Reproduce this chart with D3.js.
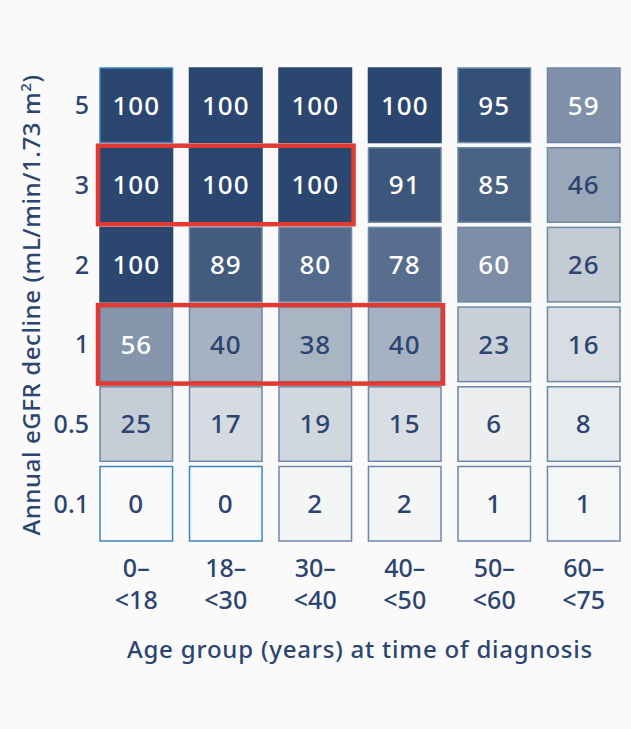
<!DOCTYPE html>
<html><head><meta charset="utf-8">
<script src="https://cdn.jsdelivr.net/npm/d3@7"></script>
<style>body{margin:0;background:#f9faf9;}</style>
</head><body>
<script>
const ageGroups = ['0–\n<18', '18–\n<30', '30–\n<40', '40–\n<50', '50–\n<60', '60–\n<75'];
const declines = ['5', '3', '2', '1', '0.5', '0.1'];
const values = [
  [100, 100, 100, 100, 95, 59],
  [100, 100, 100, 91, 85, 46],
  [100, 89, 80, 78, 60, 26],
  [56, 40, 38, 40, 23, 16],
  [25, 17, 19, 15, 6, 8],
  [0, 0, 2, 2, 1, 1],
];
// highlighted ranges: [row, firstCol, lastCol]
const highlights = [[1, 0, 2], [3, 0, 3]];

const navy = '#2c4470';
const svg = d3.select('body').append('svg').attr('width', 631).attr('height', 729)
  .style('font-family', 'Noto Sans').style('font-weight', 500);

const x = d3.scaleBand().domain(d3.range(6)).range([96, 624]).paddingInner(0.1).paddingOuter(0);
const y = d3.scaleBand().domain(d3.range(6)).range([67, 542]).paddingInner(0.04).paddingOuter(0);
const color = d3.scaleLinear().domain([0, 100]).range(['#f8f9f8', '#2b4770']).interpolate(d3.interpolateRgb);

const cells = values.flatMap((row, r) => row.map((v, c) => ({ r, c, v })));
const g = svg.append('g');
g.selectAll('rect').data(cells).join('rect')
  .attr('x', (d) => x(d.c) + 4).attr('y', (d) => y(d.r) + 1)
  .attr('width', x.bandwidth() - 8).attr('height', y.bandwidth() - 2)
  .attr('fill', (d) => color(d.v))
  .attr('stroke', (d) => {
    if ((d.r === 0 && d.c === 0) || d.v === 0) return '#3b87c4';
    return d.v === 100 ? color(d.v) : '#6f87a8';
  })
  .attr('stroke-width', 1.5);
g.selectAll('text').data(cells).join('text')
  .attr('x', (d) => x(d.c) + x.bandwidth() / 2)
  .attr('y', (d) => y(d.r) + y.bandwidth() / 2)
  .attr('dy', '0.36em').attr('text-anchor', 'middle')
  .attr('font-size', 26).attr('letter-spacing', 1)
  .attr('fill', (d) => (d.v >= 50 ? '#ffffff' : navy))
  .text((d) => d.v);

svg.append('g').selectAll('rect').data(highlights).join('rect')
  .attr('x', (d) => x(d[1]) + 2)
  .attr('y', (d) => y(d[0]) - 1)
  .attr('width', (d) => x(d[2]) + x.bandwidth() - x(d[1]) - 4)
  .attr('height', y.bandwidth() + 2)
  .attr('fill', 'none').attr('stroke', '#e03a32').attr('stroke-width', 4.5);

svg.append('g').selectAll('text').data(declines).join('text')
  .attr('x', 89).attr('y', (d, i) => y(i) + y.bandwidth() / 2)
  .attr('dy', '0.36em').attr('text-anchor', 'end')
  .attr('font-size', 25).attr('fill', navy).text((d) => d);

const xt = svg.append('g').selectAll('text').data(ageGroups).join('text')
  .attr('x', (d, i) => x(i) + x.bandwidth() / 2)
  .attr('text-anchor', 'middle').attr('font-size', 25).attr('fill', navy);
xt.selectAll('tspan').data((d) => d.split('\n')).join('tspan')
  .attr('x', function () { return this.parentNode.getAttribute('x'); })
  .attr('y', (d, i) => 577 + i * 32).text((d) => d);

svg.append('text').attr('x', 360).attr('y', 658).attr('text-anchor', 'middle')
  .attr('font-size', 24).attr('letter-spacing', 0.8).attr('fill', navy)
  .text('Age group (years) at time of diagnosis');

const yt = svg.append('text').attr('transform', 'translate(40,305) rotate(-90)')
  .attr('text-anchor', 'middle').attr('font-size', 24).attr('letter-spacing', 0.6).attr('fill', navy);
yt.append('tspan').text('Annual eGFR decline (mL/min/1.73 m');
yt.append('tspan').attr('font-size', 15).attr('dy', -9).text('2');
yt.append('tspan').attr('dy', 9).text(')');
</script>
</body></html>
